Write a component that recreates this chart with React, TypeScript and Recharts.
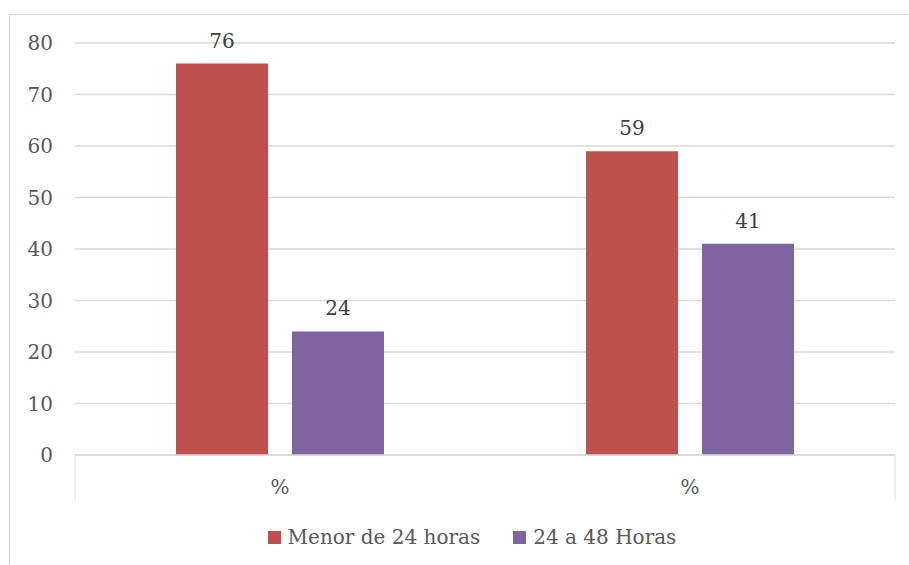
import { BarChart, Bar, XAxis, YAxis, CartesianGrid, Legend, LabelList } from "recharts";

const categories = ["%", "%"];
const menor24 = [76, 59];
const de24a48 = [24, 41];
const yTicks = [0, 10, 20, 30, 40, 50, 60, 70, 80];
const seriesNames = ["Menor de 24 horas", "24 a 48 Horas"];

const RED = "#C0504D";
const PURPLE = "#8064A2";
const FONT = "DejaVu Serif";

const data = categories.map((c, i) => ({
  name: c,
  menor: menor24[i],
  horas: de24a48[i],
}));

function CategoryTick(props: any) {
  const { x, y, payload, index, visibleTicksCount } = props;
  const half = payload && payload.offset ? payload.offset : 205;
  const last = (visibleTicksCount ?? categories.length) - 1;
  return (
    <g>
      {index === 0 && (
        <line x1={x - half} x2={x - half} y1={y} y2={y + 45} stroke="#d9d9d9" strokeWidth={1} />
      )}
      {index === last && (
        <line x1={x + half} x2={x + half} y1={y} y2={y + 45} stroke="#d9d9d9" strokeWidth={1} />
      )}
      <text
        x={x}
        y={y + 32}
        textAnchor="middle"
        dominantBaseline="central"
        fill="#595959"
        fontSize={20}
        style={{ fontFamily: FONT }}
      >
        {payload.value}
      </text>
    </g>
  );
}

function LegendBox() {
  const colors = [RED, PURPLE];
  return (
    <div
      style={{
        display: "flex",
        justifyContent: "center",
        alignItems: "center",
        height: 30,
        fontFamily: FONT,
        fontSize: 20,
        color: "#595959",
        paddingLeft: 34,
      }}
    >
      {seriesNames.map((n, i) => (
        <div key={n} style={{ display: "flex", alignItems: "center", marginRight: i === 0 ? 33 : 0 }}>
          <span style={{ width: 13, height: 13, background: colors[i], display: "inline-block", marginRight: 7 }} />
          <span>{n}</span>
        </div>
      ))}
    </div>
  );
}

export default function App() {
  return (
    <div style={{ position: "absolute", left: 0, top: 0, width: 909, height: 565, background: "#fff", fontFamily: FONT }}>
      <div
        style={{
          position: "absolute",
          left: 9,
          top: 14,
          width: 900,
          height: 551,
          borderTop: "1px solid #d9d9d9",
          borderLeft: "1px solid #d9d9d9",
          boxSizing: "border-box",
        }}
      />
      <div style={{ position: "absolute", left: 0, top: 0 }}>
        <BarChart
          width={909}
          height={565}
          data={data}
          margin={{ top: 43, right: 14, left: 15, bottom: 35 }}
          barSize={92}
          barGap={24}
        >
          <CartesianGrid vertical={false} stroke="#d9d9d9" strokeWidth={1.5} />
          <XAxis
            dataKey="name"
            height={45}
            axisLine={{ stroke: "#d9d9d9", strokeWidth: 1.5 }}
            tickLine={false}
            tickSize={0}
            tickMargin={0}
            tick={<CategoryTick />}
            interval={0}
          />
          <YAxis
            width={60}
            domain={[0, 80]}
            ticks={yTicks}
            axisLine={false}
            tickLine={false}
            tickSize={0}
            tickMargin={22}
            tick={{ fill: "#595959", fontSize: 20, style: { fontFamily: FONT } }}
          />
          <Legend verticalAlign="bottom" content={<LegendBox />} wrapperStyle={{ bottom: 13 }} />
          <Bar dataKey="menor" name={seriesNames[0]} fill={RED} isAnimationActive={false}>
            <LabelList dataKey="menor" position="top" offset={16} fill="#404040" fontSize={20} style={{ fontFamily: FONT }} />
          </Bar>
          <Bar dataKey="horas" name={seriesNames[1]} fill={PURPLE} isAnimationActive={false}>
            <LabelList dataKey="horas" position="top" offset={16} fill="#404040" fontSize={20} style={{ fontFamily: FONT }} />
          </Bar>
        </BarChart>
      </div>
    </div>
  );
}
